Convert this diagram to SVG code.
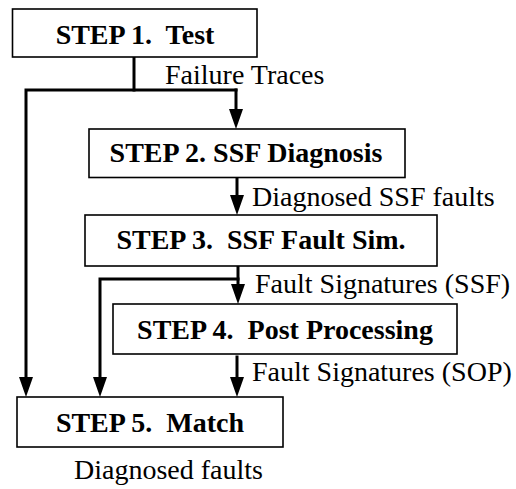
<svg xmlns="http://www.w3.org/2000/svg" width="516" height="489" viewBox="0 0 516 489">
<defs>
  <marker id="arr" viewBox="0 0 20 14" markerWidth="20" markerHeight="14" refX="12" refY="7" orient="auto" markerUnits="userSpaceOnUse">
    <path d="M0,0 L20,7 L0,14 z" fill="#000"/>
  </marker>
</defs>
<rect width="516" height="489" fill="#fff"/>
<g id="connectors" fill="none" stroke="#000" stroke-width="3" stroke-linecap="square">
  <path d="M134,57 V90"/>
  <path d="M236,90 H26 V389" marker-end="url(#arr)"/>
  <path d="M236,90 V121" marker-end="url(#arr)"/>
  <path d="M237,178 V207" marker-end="url(#arr)"/>
  <path d="M238,267 V296" marker-end="url(#arr)"/>
  <path d="M238,279 H100 V389" marker-end="url(#arr)"/>
  <path d="M237,357 V389" marker-end="url(#arr)"/>
</g>
<g id="labels" font-family="Liberation Serif" font-size="28" fill="#000">
  <text x="165" y="84">Failure Traces</text>
  <text x="252" y="206">Diagnosed SSF faults</text>
  <text x="255" y="293">Fault Signatures (SSF)</text>
  <text x="252" y="381">Fault Signatures (SOP)</text>
</g>
<g id="step1">
  <rect x="12.5" y="9" width="244.5" height="48" fill="#fff" stroke="#000" stroke-width="1.6"/>
  <text x="135" y="44" font-family="Liberation Serif" font-size="28" font-weight="bold" text-anchor="middle" xml:space="preserve">STEP 1.  Test</text>
</g>
<g id="step2">
  <rect x="89" y="129" width="316" height="48.5" fill="#fff" stroke="#000" stroke-width="1.6"/>
  <text x="246" y="162" font-family="Liberation Serif" font-size="28" font-weight="bold" text-anchor="middle">STEP 2. SSF Diagnosis</text>
</g>
<g id="step3">
  <rect x="85" y="215" width="352" height="51" fill="#fff" stroke="#000" stroke-width="1.6"/>
  <text x="261" y="249" font-family="Liberation Serif" font-size="28" font-weight="bold" text-anchor="middle" xml:space="preserve">STEP 3.  SSF Fault Sim.</text>
</g>
<g id="step4">
  <rect x="113" y="304" width="344" height="50" fill="#fff" stroke="#000" stroke-width="1.6"/>
  <text x="285" y="339" font-family="Liberation Serif" font-size="28" font-weight="bold" text-anchor="middle" xml:space="preserve">STEP 4.  Post Processing</text>
</g>
<g id="step5">
  <rect x="17" y="397" width="266" height="50" fill="#fff" stroke="#000" stroke-width="1.6"/>
  <text x="150" y="432" font-family="Liberation Serif" font-size="28" font-weight="bold" text-anchor="middle" xml:space="preserve">STEP 5.  Match</text>
</g>
<g id="output-label">
  <text x="74" y="479" font-family="Liberation Serif" font-size="28" fill="#000">Diagnosed faults</text>
</g>
</svg>
